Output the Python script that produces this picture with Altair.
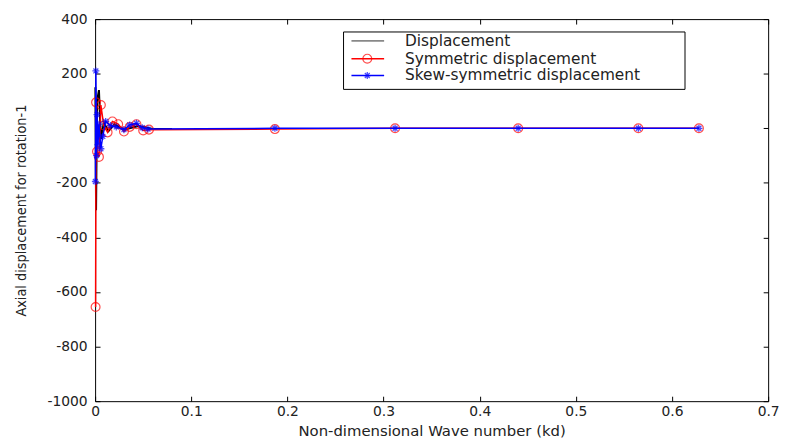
import altair as alt
import pandas as pd

# ---- data ----
disp_x = [0.0003, 0.001, 0.002, 0.004, 0.006, 0.009, 0.014, 0.020, 0.030, 0.045, 0.060, 0.080]
disp_y = [150, -300, 100, 140, -40, 20, -10, 15, -5, 8, -3, -3]

sym_x = [0.0005, 0.001, 0.002, 0.004, 0.006, 0.009, 0.013, 0.018, 0.024, 0.030, 0.036,
         0.043, 0.050, 0.056, 0.187, 0.312, 0.440, 0.565, 0.628]
sym_y = [-655, 95, -85, -105, 85, 10, -15, 25, 15, -12, 5, 15, -8, -5, -3, 0, 0, 0, 0]

skew_x = [0.0003, 0.0008, 0.0015, 0.002, 0.003, 0.004, 0.006, 0.008, 0.011, 0.016, 0.022,
          0.030, 0.036, 0.043, 0.049, 0.055, 0.187, 0.312, 0.440, 0.565, 0.628]
skew_y = [-195, 210, -100, 50, -60, 15, -75, -30, 25, 10, 5, -5, 12, 18, 2, -3, 0, 0, 0, 0, 0]

x_ticks = [0, 0.1, 0.2, 0.3, 0.4, 0.5, 0.6, 0.7]
y_ticks = [-1000, -800, -600, -400, -200, 0, 200, 400]

legend_labels = ["Displacement", "Symmetric displacement", "Skew-symmetric displacement"]

FONT = "DejaVu Sans"
TXT = "#222222"
STAR = "M0,-1L0,1M-1,0L1,0M-0.7,-0.7L0.7,0.7M-0.7,0.7L0.7,-0.7"

df_disp = pd.DataFrame({"x": disp_x, "y": disp_y})
df_sym = pd.DataFrame({"x": sym_x, "y": sym_y})
df_skew = pd.DataFrame({"x": skew_x, "y": skew_y})

xs = alt.Scale(domain=[0, 0.7], nice=False, zero=False)
ys = alt.Scale(domain=[-1000, 400], nice=False, zero=False)

x_axis = alt.Axis(values=x_ticks, format="~g", domain=False, grid=False, offset=-5,
                  tickSize=5, tickColor="black", labelPadding=3, labelFont=FONT,
                  labelFontSize=14, labelColor=TXT, labelFlush=False,
                  title="Non-dimensional Wave number (kd)", titleFont=FONT,
                  titleFontSize=15, titleFontWeight="normal", titleColor=TXT,
                  titlePadding=6)
y_axis = alt.Axis(values=y_ticks, labelExpr="'' + datum.value", domain=False, grid=False,
                  offset=-5, tickSize=5, tickColor="black", labelPadding=8,
                  labelFont=FONT, labelFontSize=14, labelColor=TXT, labelFlush=False,
                  title="Axial displacement for rotation-1", titleFont="DejaVu Sans Condensed",
                  titleFontSize=14.5, titleFontWeight="normal", titleColor=TXT,
                  titlePadding=19)
top_axis = alt.Axis(values=x_ticks, labels=False, domain=False, grid=False, offset=-5,
                    tickSize=5, tickColor="black", orient="top")
right_axis = alt.Axis(values=y_ticks, labels=False, domain=False, grid=False, offset=-5,
                      tickSize=5, tickColor="black", orient="right")


def enc(ch):
    return ch.encode(x=alt.X("x:Q", scale=xs, axis=x_axis),
                     y=alt.Y("y:Q", scale=ys, axis=y_axis))


black_line = enc(alt.Chart(df_disp).mark_line(color="black", strokeWidth=2))
red_line = enc(alt.Chart(df_sym).mark_line(color="#ff0000", strokeWidth=1.5))
red_pts = enc(alt.Chart(df_sym).mark_point(color="#ff0000", shape="circle", filled=False,
                                           size=80, strokeWidth=1.2))
blue_line = enc(alt.Chart(df_skew).mark_line(color="#0000ff", strokeWidth=1.5))
blue_pts = enc(alt.Chart(df_skew).mark_point(color="#0000ff", shape=STAR, filled=False,
                                            size=50, strokeWidth=1.3))

inner = alt.layer(black_line, red_line, red_pts, blue_line, blue_pts)

mirror = alt.Chart(df_skew).mark_point(opacity=0).encode(
    x=alt.X("x:Q", scale=xs, axis=top_axis, title=None),
    y=alt.Y("y:Q", scale=ys, axis=right_axis, title=None),
)

# ---- legend box (decoration) ----
row_y = [22, 40, 57]
one = pd.DataFrame({"k": [0]})
leg_box = alt.Chart(one).mark_rect(fill="white", stroke="black", strokeWidth=1).encode(
    x=alt.value(251), x2=alt.value(596), y=alt.value(13), y2=alt.value(71))
leg_layers = [leg_box]
leg_colors = ["#888888", "#ff0000", "#0000ff"]
for i, lab in enumerate(legend_labels):
    leg_layers.append(alt.Chart(one).mark_rule(color=leg_colors[i], strokeWidth=1.5 if i else 2).encode(
        x=alt.value(259), x2=alt.value(292), y=alt.value(row_y[i])))
    leg_layers.append(alt.Chart(pd.DataFrame({"label": [lab]})).mark_text(
        align="left", baseline="middle", font=FONT, fontSize=15.5, color=TXT).encode(
        x=alt.value(313), y=alt.value(row_y[i]), text="label:N"))
leg_layers.append(alt.Chart(one).mark_point(color="#ff0000", shape="circle", filled=False,
                                            size=80, strokeWidth=1.2).encode(
    x=alt.value(275), y=alt.value(row_y[1])))
leg_layers.append(alt.Chart(one).mark_point(color="#0000ff", shape=STAR, filled=False,
                                            size=50, strokeWidth=1.3).encode(
    x=alt.value(275), y=alt.value(row_y[2])))

chart = alt.layer(inner, mirror, *leg_layers).resolve_axis(
    x="independent", y="independent"
).properties(
    width=680, height=386,
    padding={"left": 88, "top": 9, "right": 15, "bottom": 36},
    autosize=alt.AutoSizeParams(type="none"),
).configure_view(stroke="black", strokeWidth=1)

chart.save("out.html", embed_options={"renderer": "svg", "actions": False})
